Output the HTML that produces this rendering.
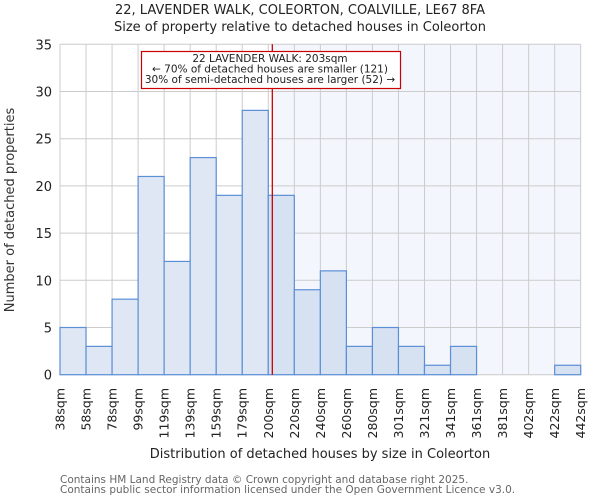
<!DOCTYPE html>
<html><head><meta charset="utf-8"><style>body{margin:0;background:#fff}svg{display:block;font-family:"DejaVu Sans","Liberation Sans",sans-serif}</style></head>
<body>
<svg id="chart" width="600" height="500"></svg>
<script>
const categories=["38sqm","58sqm","78sqm","99sqm","119sqm","139sqm","159sqm","179sqm","200sqm","220sqm","240sqm","260sqm","280sqm","301sqm","321sqm","341sqm","361sqm","381sqm","402sqm","422sqm","442sqm"];
const counts=[5,3,8,21,12,23,19,28,19,9,11,3,5,3,1,3,0,0,0,1];
const yTicks=[0,5,10,15,20,25,30,35];
const markerBin=8.155;
const NS="http://www.w3.org/2000/svg";
const svg=document.getElementById('chart');
const L=60,R=580.7,T=44.3,B=374.7,yMax=35;
const nb=counts.length;
const xs=i=>L+(R-L)*i/nb;
const ys=v=>B-(B-T)*v/yMax;
function mk(tag,attrs,parent){const e=document.createElementNS(NS,tag);for(const k in attrs)e.setAttribute(k,attrs[k]);(parent||svg).appendChild(e);return e;}
const mx=xs(markerBin);
let e=mk('rect',{x:mx,y:T,width:R-mx,height:B-T,fill:'#f3f6fd'});


const grid=mk('g',{});


yTicks.forEach(v=>{mk('line',{x1:L,x2:R,y1:ys(v),y2:ys(v),stroke:'#cccccc','stroke-width':1},grid);});
for(let i=0;i<=nb;i++){mk('line',{x1:xs(i),x2:xs(i),y1:T,y2:B,stroke:'#cccccc','stroke-width':1},grid);}
counts.forEach((c,i)=>{if(c<=0)return;const r=mk('rect',{x:xs(i),y:ys(c),width:xs(i+1)-xs(i),height:B-ys(c),fill:(i+1)<=markerBin?'#dfe7f4':'#d6e1f2',stroke:'#5b8fd6','stroke-width':1.2});

});
e=mk('line',{x1:mx,x2:mx,y1:T,y2:B,stroke:'#cc0000','stroke-width':1.3});


yTicks.forEach(v=>{const t=mk('text',{x:L-8,y:ys(v)+5,'text-anchor':'end','font-size':13,fill:'#222'});t.textContent=v;

});
categories.forEach((c,i)=>{const x=xs(i);const t=mk('text',{x:0,y:0,'text-anchor':'end','font-size':12.5,fill:'#222',transform:`translate(${x+4.5},388) rotate(-90)`});t.textContent=c;

});
</script>
<svg width="600" height="500" style="position:absolute;left:0;top:0">
<text x="300" y="14" text-anchor="middle" font-size="13" fill="#222">22, LAVENDER WALK, COLEORTON, COALVILLE, LE67 8FA</text>
<text x="300" y="31" text-anchor="middle" font-size="13" fill="#222">Size of property relative to detached houses in Coleorton</text>
<g>
<rect x="141.5" y="51.5" width="259" height="37" fill="#fff" stroke="#cc0000" stroke-width="1.2"/>
<text x="270" y="62" text-anchor="middle" font-size="10.5" fill="#222">22 LAVENDER WALK: 203sqm</text>
<text x="270" y="72.5" text-anchor="middle" font-size="10.5" fill="#222">← 70% of detached houses are smaller (121)</text>
<text x="270" y="83" text-anchor="middle" font-size="10.5" fill="#222">30% of semi-detached houses are larger (52) →</text>
</g>
<text x="0" y="0" transform="translate(14,210) rotate(-90)" text-anchor="middle" font-size="13" fill="#333">Number of detached properties</text>
<text x="320" y="458" text-anchor="middle" font-size="13" fill="#222">Distribution of detached houses by size in Coleorton</text>
<text x="60" y="483" font-size="10.5" fill="#666">Contains HM Land Registry data © Crown copyright and database right 2025.</text>
<text x="60" y="493" font-size="10.5" fill="#666">Contains public sector information licensed under the Open Government Licence v3.0.</text>
</svg>
</body></html>
